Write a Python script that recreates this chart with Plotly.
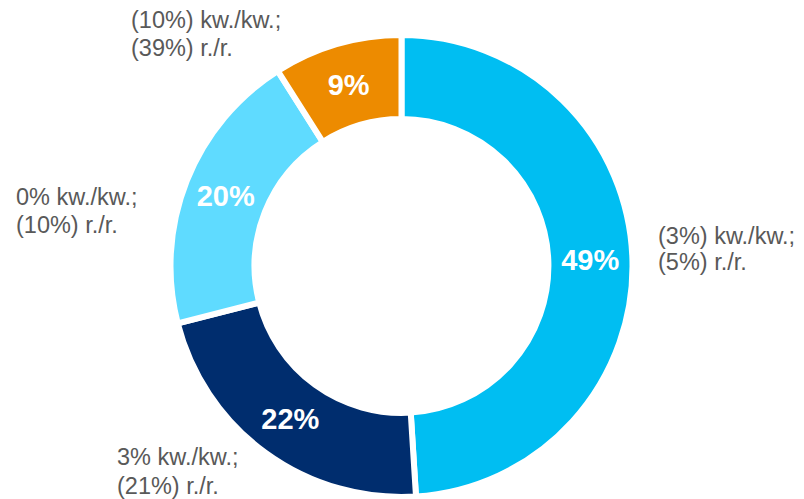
import plotly.graph_objects as go

shares = [49, 22, 20, 9]
share_labels = ["49%", "22%", "20%", "9%"]
wow_labels = ["(3%) kw./kw.;", "3% kw./kw.;", "0% kw./kw.;", "(10%) kw./kw.;"]
yoy_labels = ["(5%) r./r.", "(21%) r./r.", "(10%) r./r.", "(39%) r./r."]
colors = ["#00BEF2", "#002D6E", "#5FDBFF", "#ED8B00"]

W, H = 804, 499
ML, MR, MT, MB = 0, 1, 35, 2
PW, PH = W - ML - MR, H - MT - MB
# label positions in pixels: left edge, first-line middle, second-line middle
label_pos = [(656, 236, 262), (115, 457, 486), (14, 197, 225), (129, 20, 48)]

fig = go.Figure(go.Pie(
    values=shares,
    text=share_labels,
    textinfo="text",
    textposition="inside",
    insidetextorientation="horizontal",
    sort=False,
    direction="clockwise",
    rotation=0,
    hole=0.636,
    marker=dict(colors=colors, line=dict(color="white", width=6)),
    textfont=dict(family="Liberation Sans, Arial, sans-serif", size=29, color="white", weight="bold"),
    showlegend=False,
    hoverinfo="skip",
))

annotations = []
for (px, py1, py2), a, b in zip(label_pos, wow_labels, yoy_labels):
    for py, t in ((py1, a), (py2, b)):
        annotations.append(dict(
            x=(px - ML) / PW, y=1 - (py - MT) / PH, xref="paper", yref="paper",
            xanchor="left", yanchor="middle", align="left", showarrow=False,
            text=t,
            font=dict(family="Liberation Sans, Arial, sans-serif", size=23.5, color="#595959"),
        ))

fig.update_layout(
    width=W, height=H,
    margin=dict(l=ML, r=MR, t=MT, b=MB),
    paper_bgcolor="white", plot_bgcolor="white",
    annotations=annotations,
)

fig.write_html("out.html", config={"displayModeBar": False},
               post_script="document.body.style.margin='0';")
